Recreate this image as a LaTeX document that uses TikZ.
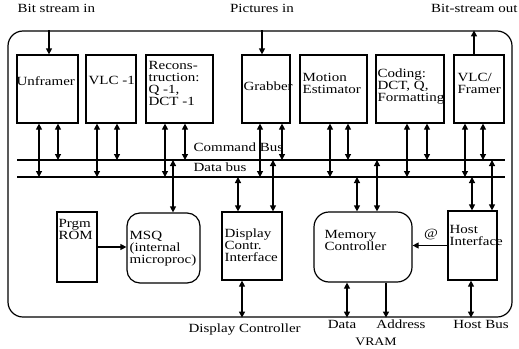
\documentclass[tikz,border=0pt]{standalone}
\usepackage{fontspec}
\setmainfont[FakeStretch=1.2]{Liberation Serif}
\usetikzlibrary{arrows.meta}

% box #1 to bus #3, #2 = shift from the centre
\newcommand{\bus}[3]{%
  \draw[<->] ([xshift=#2]#1.south) -- ([xshift=#2]#1.south |- #3);}
\newcommand{\subus}[3]{%
  \draw[<->] ([xshift=#2]#1.north |- #3) -- ([xshift=#2]#1.north);}

\begin{document}
\begin{tikzpicture}[x=1pt, y=-1pt, line width=1.2pt,
  >={Triangle[length=6pt,width=6pt]},
  font=\fontsize{12.5}{12}\selectfont,
  bloque/.style={draw, inner sep=0pt},
  redondo/.style={bloque, rounded corners=13pt},
  txt/.style={inner sep=0pt, anchor=north west, align=left},
  etiqueta/.style={inner sep=0pt},
  busline/.style={line width=1.6pt}]
  \useasboundingbox (0,0) rectangle (519,348);

  \node[draw, rounded corners=15pt, minimum width=504pt, minimum height=286pt] (chip) at (260,174) {};

  % top row
  \node[bloque, minimum width=61pt, minimum height=68pt] (unfr) at (47.5,89) {};
  \node[bloque, minimum width=50pt, minimum height=68pt] (vlci) at (111,89) {};
  \node[bloque, minimum width=67pt, minimum height=68pt] (recon) at (179.5,89) {};
  \node[bloque, minimum width=48pt, minimum height=68pt] (grab) at (266,89) {};
  \node[bloque, minimum width=67pt, minimum height=68pt] (motion) at (333.5,89) {};
  \node[bloque, minimum width=68pt, minimum height=68pt] (coding) at (410,89) {};
  \node[bloque, minimum width=50pt, minimum height=68pt] (vlcf) at (479,89) {};

  \node[txt] (unfr-t) at (16,76) {Unframer};
  \node[txt] (vlci-t) at (88,76) {VLC -1};
  \node[txt] (recon-t) at (148,61) {Recons-\\truction:\\Q -1,\\DCT -1};
  \node[txt] (grab-t) at (243,81) {Grabber};
  \node[txt] (motion-t) at (302,73) {Motion\\Estimator};
  \node[txt] (coding-t) at (377,68) {Coding:\\DCT, Q,\\Formatting};
  \node[txt] (vlcf-t) at (457,73) {VLC/\\Framer};

  % buses
  \coordinate (cmd-w) at (17,160);
  \coordinate (cmd-e) at (505,160);
  \coordinate (dat-w) at (17,177);
  \coordinate (dat-e) at (505,177);
  \draw[busline] (cmd-w) -- (cmd-e);
  \draw[busline] (dat-w) -- (dat-e);
  \node[txt] (cmd-t) at (193,142) {Command Bus};
  \node[txt] (dat-t) at (193,162) {Data bus};

  % bottom row
  \node[bloque, minimum width=40pt, minimum height=70pt] (rom) at (77,247) {};
  \node[redondo, minimum width=73pt, minimum height=70pt] (msq) at (163.5,248) {};
  \node[bloque, minimum width=60pt, minimum height=68pt] (disp) at (252,246) {};
  \node[redondo, minimum width=98pt, minimum height=70pt, rounded corners=15pt] (mem) at (363,247) {};
  \node[bloque, minimum width=49pt, minimum height=69pt] (host) at (472.5,245.5) {};

  \node[txt] (rom-t) at (58,219) {Prgm\\ROM};
  \node[txt] (msq-t) at (129,231) {MSQ\\(internal\\microproc)};
  \node[txt] (disp-t) at (224,228) {Display\\Contr.\\Interface};
  \node[txt] (mem-t) at (324,230) {Memory\\Controller};
  \node[txt] (host-t) at (449,225) {Host\\Interface};
  \node[etiqueta] (arroba) at (431,235) {@};

  % outside labels
  \node[etiqueta, anchor=west] (bitin) at (17,8) {Bit stream in};
  \node[etiqueta] (picin) at (262,8) {Pictures in};
  \node[etiqueta, anchor=east] (bitout) at (518,8) {Bit-stream out};
  \node[etiqueta, anchor=west] (dispc) at (188,330) {Display Controller};
  \node[etiqueta] (data) at (342,324) {Data};
  \node[etiqueta] (addr) at (401,324) {Address};
  \node[etiqueta] (hostbus) at (481,324) {Host Bus};
  \node[etiqueta, font=\fontsize{11.5}{12}\selectfont] (vram) at (376,342) {VRAM};

  % connections
  \bus{unfr}{-8.5}{dat-w} \bus{unfr}{10.5}{cmd-w}
  \bus{vlci}{-14}{dat-w} \bus{vlci}{6}{cmd-w}
  \bus{recon}{-14.5}{dat-w} \bus{recon}{5.5}{cmd-w}
  \bus{grab}{-6}{dat-w} \bus{grab}{16}{cmd-w}
  \bus{motion}{-3.5}{dat-w} \bus{motion}{14.5}{cmd-w}
  \bus{coding}{-3}{dat-w} \bus{coding}{17}{cmd-w}
  \bus{vlcf}{-14}{dat-w} \bus{vlcf}{4}{cmd-w}

  \subus{msq}{9.5}{cmd-w}
  \subus{disp}{-14}{dat-w} \subus{disp}{21}{cmd-w}
  \subus{mem}{-6}{dat-w} \subus{mem}{14}{cmd-w}
  \subus{host}{-0.5}{dat-w} \subus{host}{19.5}{cmd-w}

  \draw[->] ([xshift=1.5]unfr.north |- chip.north) -- ([xshift=1.5]unfr.north);
  \draw[->] ([xshift=-4]grab.north |- chip.north) -- ([xshift=-4]grab.north);
  \draw[->] ([xshift=-5]vlcf.north) -- ([xshift=-5]vlcf.north |- chip.north);

  \draw[->] (rom.east) -- (rom.east -| msq.west);
  \draw[->] (host.west) -- (host.west -| mem.east);

  \draw[<->] ([xshift=-10]disp.south) -- ([xshift=-10]disp.south |- chip.south);
  \draw[<->] ([xshift=-16]mem.south) -- ([xshift=-16]mem.south |- chip.south);
  \draw[->] ([xshift=23]mem.south) -- ([xshift=23]mem.south |- chip.south);
  \draw[<->] ([xshift=-1.5]host.south) -- ([xshift=-1.5]host.south |- chip.south);
\end{tikzpicture}
\end{document}
